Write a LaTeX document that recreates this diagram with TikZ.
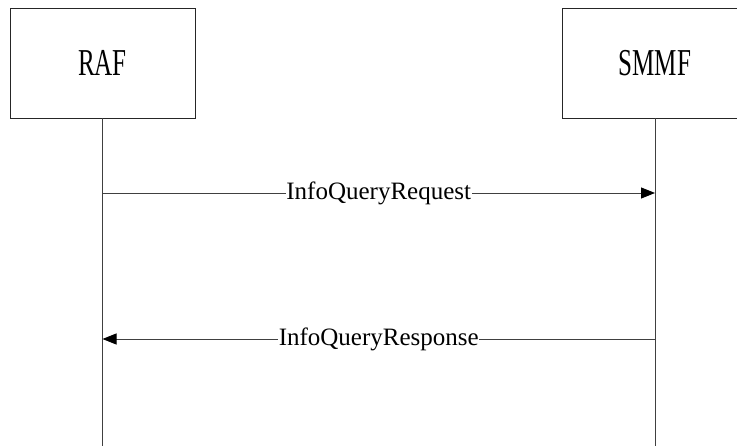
\documentclass[tikz,border=0pt]{standalone}
\usepackage{fontspec}
\setmainfont{Liberation Serif}
\newfontfamily\narrowfont[FakeStretch=0.66]{Liberation Serif}
\usetikzlibrary{arrows.meta}
\begin{document}
\begin{tikzpicture}[x=1pt,y=-1pt,
  entity/.style={draw=black!85,line width=0.9pt,minimum width=185pt,minimum height=110pt,inner sep=0pt,font=\narrowfont\fontsize{38}{40}\selectfont},
  lifeline/.style={draw=black!75,line width=0.9pt},
  msg/.style={draw=black!75,line width=0.9pt,-{Triangle[length=14pt,width=11pt,color=black]}},
  msglabel/.style={fill=white,inner sep=0.5pt,font=\fontsize{25}{27}\selectfont}]
\useasboundingbox (0,0) rectangle (737,446);
\clip (0,0) rectangle (737,446);
\node[entity] (raf) at (102.5,63) {RAF};
\node[entity] (smmf) at (655,63) {SMMF};
\coordinate (rafend) at (102.5,446);
\coordinate (smmfend) at (655,446);
\draw[lifeline] (raf.south) -- (rafend);
\draw[lifeline] (smmf.south) -- (smmfend);
\coordinate (r1) at (102.5,193);
\coordinate (s1) at (655,193);
\coordinate (r2) at (102.5,339);
\coordinate (s2) at (655,339);
\draw[msg] (r1) -- node[msglabel] (req) {InfoQueryRequest} (s1);
\draw[msg] (s2) -- node[msglabel] (resp) {InfoQueryResponse} (r2);
\end{tikzpicture}
\end{document}
